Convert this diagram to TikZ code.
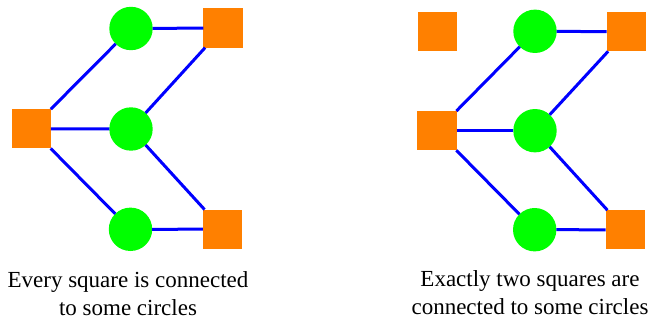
\documentclass[tikz,border=0pt]{standalone}
\usepackage{fontspec}
\setmainfont{Liberation Serif}
\begin{document}
\begin{tikzpicture}[x=1pt,y=-1pt,
  sq/.style={draw=none,fill={rgb,255:red,255;green,128;blue,0},minimum size=39.3pt,inner sep=0pt,outer sep=0pt},
  ci/.style={circle,draw=none,fill={rgb,255:red,0;green,255;blue,0},minimum size=43.4pt,inner sep=0pt,outer sep=0pt},
  linkline/.style={draw={rgb,255:red,0;green,0;blue,255},line width=3pt},
  captext/.style={anchor=base,inner sep=0pt,font=\fontsize{23}{28}\selectfont}]
\useasboundingbox (0,0) rectangle (651,321);
% left diagram
\node[sq] (lL) at (31.3,128.8) {};
\node[ci] (lc1) at (131,28.5) {};
\node[ci] (lc2) at (131,129) {};
\node[ci] (lc3) at (130.5,229.3) {};
\node[sq] (lR1) at (223,28) {};
\node[sq] (lR2) at (222.5,229.2) {};
\draw[linkline] (lL) -- (lc1);
\draw[linkline] (lL) -- (lc2);
\draw[linkline] (lL) -- (lc3);
\draw[linkline] (lc1) -- (lR1);
\draw[linkline] (lR1) -- (lc2);
\draw[linkline] (lc2) -- (lR2);
\draw[linkline] (lc3) -- (lR2);
% right diagram
\node[sq] (rI) at (437.3,31.7) {};
\node[sq] (rL) at (437,130.7) {};
\node[ci] (rc1) at (535,31.3) {};
\node[ci] (rc2) at (535,130.7) {};
\node[ci] (rc3) at (534.7,229.7) {};
\node[sq] (rR1) at (626.2,31.7) {};
\node[sq] (rR2) at (625.3,229.8) {};
\draw[linkline] (rL) -- (rc1);
\draw[linkline] (rL) -- (rc2);
\draw[linkline] (rL) -- (rc3);
\draw[linkline] (rc1) -- (rR1);
\draw[linkline] (rR1) -- (rc2);
\draw[linkline] (rc2) -- (rR2);
\draw[linkline] (rc3) -- (rR2);
% captions
\node[captext] (t1a) at (128,287.5) {Every square is connected};
\node[captext] (t1b) at (128,315.5) {to some circles};
\node[captext] (t2a) at (530,286.7) {Exactly two squares are};
\node[captext] (t2b) at (530,314.3) {connected to some circles};
\end{tikzpicture}
\end{document}
